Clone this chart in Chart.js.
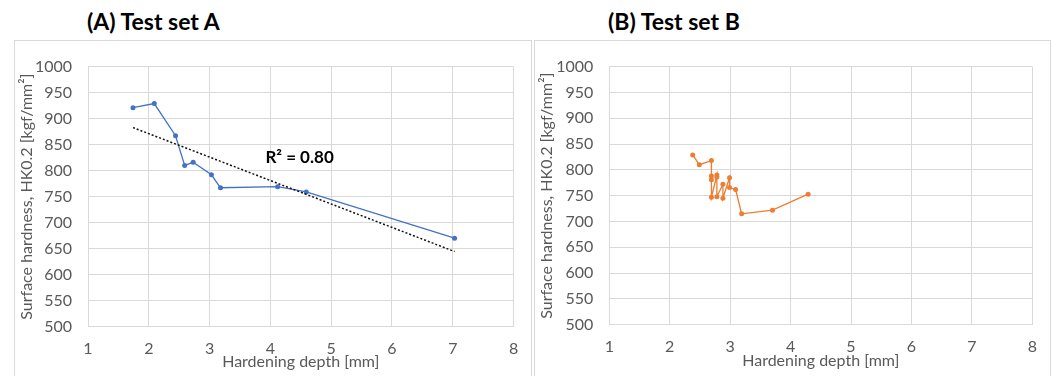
<!DOCTYPE html>
<html>
<head>
<meta charset="utf-8">
<script src="https://cdn.jsdelivr.net/npm/chart.js@4"></script>
<style>
  body { margin: 0; width: 1054px; height: 376px; overflow: hidden; background: #fff; position: relative; }
  .panel { position: absolute; top: 40px; height: 360px; border: 1px solid #d9d9d9; border-bottom: none; }
  #panelA { left: 14px; width: 516px; }
  #panelB { left: 534px; width: 515px; }
  .panel canvas { position: absolute; left: 0; top: 0; }
  .heading { position: absolute; top: 7px; font: bold 23px Lato, sans-serif; color: #000; white-space: nowrap; }
  #headA { left: 87px; }
  #headB { left: 608px; }
</style>
</head>
<body>
<div class="heading" id="headA">(A) Test set A</div>
<div class="heading" id="headB">(B) Test set B</div>
<div class="panel" id="panelA"><canvas id="chartA" width="516" height="335"></canvas></div>
<div class="panel" id="panelB"><canvas id="chartB" width="515" height="335"></canvas></div>
<script>
// Test set A: hardening depth [mm] vs surface hardness HK0.2
const depthA = [1.74, 2.09, 2.44, 2.59, 2.73, 3.03, 3.18, 4.12, 4.59, 7.03];
const hardnessA = [921, 929, 867, 810, 816, 792, 767, 769, 759, 670];

// Test set B
const depthB = [2.38, 2.49, 2.69, 2.69, 2.69, 2.69, 2.78, 2.78, 2.78, 2.88, 2.88, 2.99, 2.99, 3.09, 3.19, 3.70, 4.29];
const hardnessB = [829, 810, 818, 788, 781, 747, 790, 786, 748, 772, 745, 785, 766, 762, 715, 722, 753];

// axis ranges
const xRange = [1, 8];
const yRange = [500, 1000];
const yStep = 50;

const r2Text = 'R\u00b2 = 0.80';
const r2Anchor = [4.48, 826];

const blue = '#4472C4';
const orange = '#ED7D31';
const gridColor = '#d9d9d9';
const textColor = '#595959';
const fontFamily = 'Lato, sans-serif';

function toPoints(xs, ys) {
  return xs.map((x, i) => ({ x: x, y: ys[i] }));
}

// least-squares linear trend over a series
function linearFit(xs, ys) {
  const n = xs.length;
  const mx = xs.reduce((a, b) => a + b, 0) / n;
  const my = ys.reduce((a, b) => a + b, 0) / n;
  let sxy = 0, sxx = 0;
  for (let i = 0; i < n; i++) {
    sxy += (xs[i] - mx) * (ys[i] - my);
    sxx += (xs[i] - mx) * (xs[i] - mx);
  }
  const slope = sxy / sxx;
  return x => my + slope * (x - mx);
}

function makeOptions(layout) {
  return {
    responsive: false,
    animation: false,
    layout: { padding: layout.padding },
    plugins: { legend: { display: false }, tooltip: { enabled: false } },
    scales: {
      x: {
        type: 'linear',
        min: xRange[0],
        max: xRange[1],
        ticks: {
          stepSize: 1,
          padding: 12.8,
          color: textColor,
          font: { family: fontFamily, size: 16 },
          callback: v => String(v)
        },
        grid: { color: gridColor, drawTicks: false },
        border: { color: gridColor },
        title: {
          display: true,
          text: 'Hardening depth [mm]',
          color: textColor,
          padding: 0,
          font: { family: fontFamily, size: 16 }
        },
        afterFit: s => { s.height = layout.xHeight; }
      },
      y: {
        type: 'linear',
        min: yRange[0],
        max: yRange[1],
        ticks: {
          stepSize: yStep,
          padding: 16,
          color: textColor,
          font: { family: fontFamily, size: 16 },
          callback: v => String(v)
        },
        grid: { color: gridColor, drawTicks: false },
        border: { color: gridColor },
        title: {
          display: true,
          text: 'Surface hardness, HK0.2 [kgf/mm\u00b2]',
          color: textColor,
          padding: { top: layout.yTitlePad, bottom: 0 },
          font: { family: fontFamily, size: 16 }
        },
        afterFit: s => { s.width = layout.yWidth; }
      }
    }
  };
}

const r2Label = {
  id: 'r2Label',
  afterDatasetsDraw(chart) {
    const { ctx, scales } = chart;
    ctx.save();
    ctx.font = 'bold 17px ' + fontFamily;
    ctx.fillStyle = '#000';
    ctx.textAlign = 'center';
    ctx.textBaseline = 'middle';
    ctx.fillText(r2Text, scales.x.getPixelForValue(r2Anchor[0]), scales.y.getPixelForValue(r2Anchor[1]));
    ctx.restore();
  }
};

function initChartA() {
  const trend = linearFit(depthA, hardnessA);
  const x0 = Math.min(...depthA);
  const x1 = Math.max(...depthA);
  new Chart(document.getElementById('chartA'), {
    type: 'scatter',
    data: {
      datasets: [
        {
          label: 'Trend',
          data: [{ x: x0, y: trend(x0) }, { x: x1, y: trend(x1) }],
          showLine: true,
          borderColor: '#111',
          borderWidth: 1.5,
          borderDash: [2, 2],
          pointRadius: 0
        },
        {
          label: 'Test set A',
          data: toPoints(depthA, hardnessA),
          showLine: true,
          borderColor: blue,
          backgroundColor: blue,
          borderWidth: 1.3,
          pointRadius: 2.5,
          pointBorderWidth: 0
        }
      ]
    },
    options: makeOptions({ padding: { left: 0, top: 19, right: 17, bottom: 4.4 }, yWidth: 73, xHeight: 45, yTitlePad: 2 }),
    plugins: [r2Label]
  });
}

function initChartB() {
  new Chart(document.getElementById('chartB'), {
    type: 'scatter',
    data: {
      datasets: [{
        label: 'Test set B',
        data: toPoints(depthB, hardnessB),
        showLine: true,
        borderColor: orange,
        backgroundColor: orange,
        borderWidth: 1.3,
        pointRadius: 2.5,
        pointBorderWidth: 0
      }]
    },
    options: makeOptions({ padding: { left: 0, top: 18.5, right: 17.7, bottom: 5.4 }, yWidth: 74.3, xHeight: 45.8, yTitlePad: 2 })
  });
}

initChartA();
initChartB();
</script>
</body>
</html>
